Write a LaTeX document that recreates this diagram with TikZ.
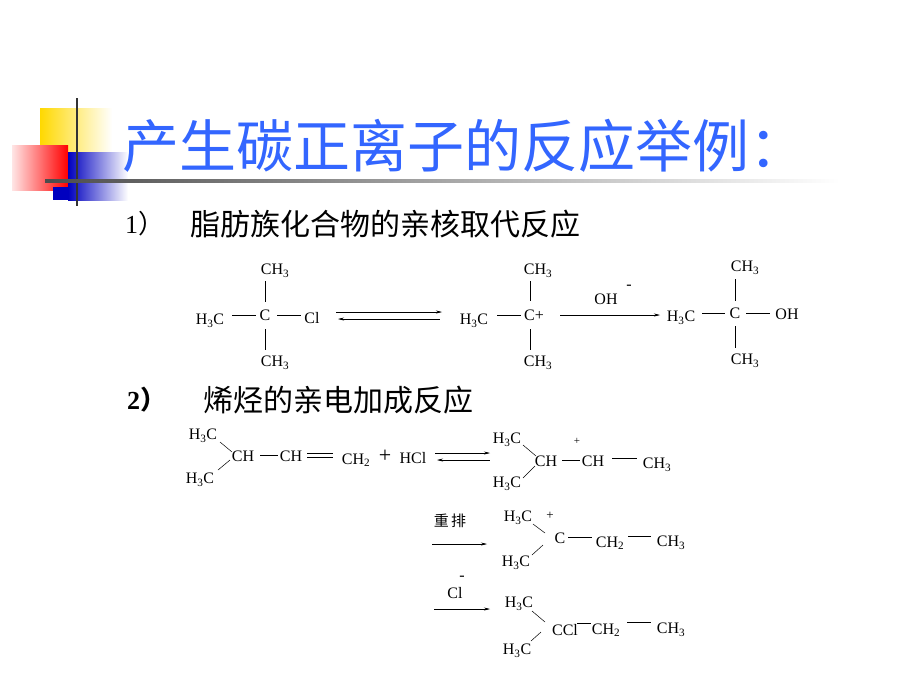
\documentclass[tikz,border=0pt]{standalone}
\usepackage{fontspec}
\setmainfont{Liberation Serif}
\newfontfamily\cjk{Noto Sans CJK SC}
\usetikzlibrary{arrows.meta}
\definecolor{titleblue}{RGB}{51,102,255}
\newcommand{\hc}{H\textsubscript{3}C}
\newcommand{\ch}{CH\textsubscript{3}}
\newcommand{\chh}{CH\textsubscript{2}}
\tikzset{
  chem/.style={inner sep=0pt,font=\fontsize{16}{16}\selectfont},
  bond/.style={line width=0.5pt},
  rx/.style={line width=0.5pt,-{Stealth[length=6pt,width=3pt]}},
  lx/.style={line width=0.5pt,{Stealth[length=6pt,width=3pt]}-},
}
\begin{document}
\begin{tikzpicture}[x=1pt,y=-1pt]
\useasboundingbox (0,0) rectangle (920,691);
% decoration
\shade[left color=yellow!70!orange,right color=white] (40,108) rectangle (112,152);
\shade[left color=red!10,right color=red] (12,145) rectangle (68,190);
\shade[left color=blue!75!black,right color=white] (68,152) rectangle (128,200);
\fill[blue!75!black] (53,187) rectangle (68,200);
\draw[line width=1.5pt,black!80] (77,98) -- (77,206);
\shade[left color=black!70,right color=white] (45,179) rectangle (840,182);
% title
\node[anchor=west,inner sep=0pt,text=titleblue,font=\cjk\fontsize{57}{57}\selectfont] (title) at (122,146) {产生碳正离子的反应举例：};
\node[anchor=west,inner sep=0pt,font=\fontsize{26}{26}\selectfont] (n1) at (125,224) {1\cjk）};
\node[anchor=west,inner sep=0pt,font=\cjk\fontsize{30}{30}\selectfont] (h1) at (190,224) {脂肪族化合物的亲核取代反应};
\node[anchor=west,inner sep=0pt,font=\bfseries\fontsize{26}{26}\selectfont] (n2) at (127,400) {2\cjk）};
\node[anchor=west,inner sep=0pt,font=\cjk\fontsize{30}{30}\selectfont] (h2) at (203,400) {烯烃的亲电加成反应};
% reaction 1
\node[chem] (a1) at (275,271) {\ch};
\node[chem] (a2) at (210,321) {\hc};
\node[chem] (a3) at (265,315) {C};
\node[chem] (a4) at (312,318) {Cl};
\node[chem] (a5) at (275,363) {\ch};
\draw[bond] (265,281) -- (265,302);
\draw[bond] (265,329) -- (265,350);
\draw[bond] (232,315) -- (256,315);
\draw[bond] (277,315) -- (301,315);
\coordinate (e1) at (336,312); \coordinate (e2) at (442,312);
\coordinate (e3) at (338,319); \coordinate (e4) at (440,319);
\draw[rx] (e1) -- (e2);
\draw[lx] (e3) -- (e4);
\node[chem] (b1) at (538,271) {\ch};
\node[chem] (b2) at (474,321) {\hc};
\node[chem] (b3) at (534,315) {C+};
\node[chem] (b5) at (538,363) {\ch};
\draw[bond] (530,281) -- (530,301);
\draw[bond] (530,329) -- (530,350);
\draw[bond] (497,315) -- (521,315);
\coordinate (f1) at (560,315); \coordinate (f2) at (660,315);
\draw[rx] (f1) -- (f2);
\node[chem] (oh) at (606,299) {OH};
\node[chem] (ohm) at (629,287) {-};
\node[chem] (c1) at (745,268) {\ch};
\node[chem] (c2) at (681,318) {\hc};
\node[chem] (c3) at (735,313) {C};
\node[chem] (c4) at (787,314) {OH};
\node[chem] (c5) at (745,361) {\ch};
\draw[bond] (735,279) -- (735,301);
\draw[bond] (735,326) -- (735,348);
\draw[bond] (702,313) -- (725,313);
\draw[bond] (746,313) -- (770,313);
% reaction 2
\node[chem] (d1) at (203,436) {\hc};
\node[chem] (d2) at (200,480) {\hc};
\node[chem] (d3) at (243,456) {CH};
\node[chem] (d4) at (291,456) {CH};
\node[chem] (d5) at (356,460) {\chh};
\node[chem,font=\fontsize{22}{22}\selectfont] (plus) at (385,456) {+};
\node[chem] (hcl) at (413,458) {HCl};
\draw[bond] (220,442) -- (232,452);
\draw[bond] (218,470) -- (230,460);
\draw[bond] (260,455) -- (278,455);
\draw[bond] (307,453) -- (333,453);
\draw[bond] (307,457) -- (333,457);
\coordinate (g1) at (435,453); \coordinate (g2) at (490,453);
\coordinate (g3) at (437,460); \coordinate (g4) at (490,460);
\draw[rx] (g1) -- (g2);
\draw[lx] (g3) -- (g4);
\node[chem] (k1) at (507,440) {\hc};
\node[chem] (k2) at (507,484) {\hc};
\node[chem] (k3) at (546,461) {CH};
\node[chem,font=\fontsize{11}{11}\selectfont] (kp) at (577,441) {+};
\node[chem] (k4) at (593,461) {CH};
\node[chem] (k5) at (657,465) {\ch};
\draw[bond] (523,445) -- (536,456);
\draw[bond] (523,478) -- (535,466);
\draw[bond] (562,460) -- (580,460);
\draw[bond] (612,458) -- (637,458);
\node[chem,font=\cjk\fontsize{15}{15}\selectfont] (cp) at (450,521) {重\,排};
\coordinate (h1a) at (432,544); \coordinate (h1b) at (487,544);
\draw[rx] (h1a) -- (h1b);
\node[chem] (m1) at (518,518) {\hc};
\node[chem,font=\fontsize{13}{13}\selectfont] (mp) at (550,516) {+};
\node[chem] (m3) at (560,538) {C};
\node[chem] (m4) at (610,543) {\chh};
\node[chem] (m5) at (671,543) {\ch};
\node[chem] (m2) at (516,563) {\hc};
\draw[bond] (533,524) -- (545,533);
\draw[bond] (532,555) -- (543,545);
\draw[bond] (568,537) -- (592,537);
\draw[bond] (628,536) -- (651,536);
\node[chem] (clm) at (462,578) {-};
\node[chem] (cl) at (455,593) {Cl};
\coordinate (i1) at (434,609); \coordinate (i2) at (490,609);
\draw[rx] (i1) -- (i2);
\node[chem] (p1) at (519,604) {\hc};
\node[chem] (p3) at (565,630) {CCl};
\node[chem] (p4) at (606,630) {\chh};
\node[chem] (p5) at (671,630) {\ch};
\node[chem] (p2) at (517,651) {\hc};
\draw[bond] (532,611) -- (545,622);
\draw[bond] (531,641) -- (541,632);
\draw[bond] (577,623) -- (591,623);
\draw[bond] (627,622) -- (651,622);
\end{tikzpicture}
\end{document}
